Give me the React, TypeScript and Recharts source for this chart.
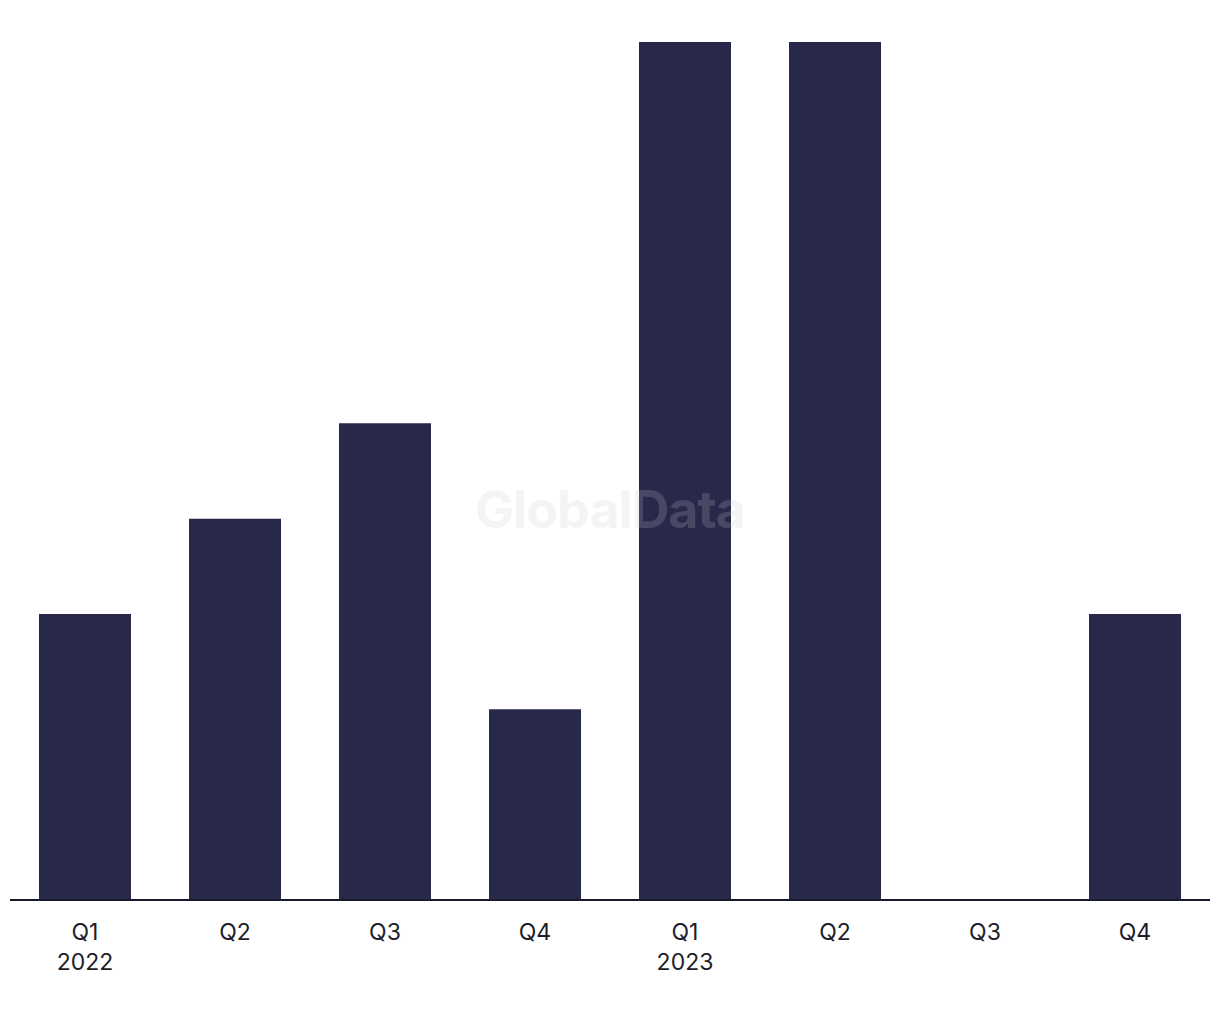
import React from 'react';
import { BarChart, Bar, XAxis, YAxis } from 'recharts';

const quarters = ['Q1', 'Q2', 'Q3', 'Q4', 'Q1', 'Q2', 'Q3', 'Q4'];
const years = ['2022', '', '', '', '2023', '', '', ''];
const deals = [3, 4, 5, 2, 9, 9, 0, 3];

const data = quarters.map((q, i) => ({ key: `${q}-${i}`, quarter: q, year: years[i], deals: deals[i] }));

const QuarterTick = (props: any) => {
  const { x, y, payload } = props;
  const row = data[payload.index];
  return (
    <g transform={`translate(${x},${y})`}>
      <text x={0} y={0} dy={32} textAnchor="middle" fill="#1d1d2b" fontSize={23} fontFamily="Inter, 'Liberation Sans', sans-serif">
        {row.quarter}
      </text>
      {row.year && (
        <text x={0} y={0} dy={62} textAnchor="middle" fill="#1d1d2b" fontSize={23} fontFamily="Inter, 'Liberation Sans', sans-serif">
          {row.year}
        </text>
      )}
    </g>
  );
};

export default function App() {
  return (
    <div style={{ position: 'absolute', left: 0, top: 0, width: 1220, height: 1020, background: '#fff' }}>
      <BarChart width={1220} height={1020} data={data} margin={{ top: 42, right: 10, left: 10, bottom: 60 }} barCategoryGap={29}>
        <XAxis
          dataKey="key"
          tick={<QuarterTick />}
          tickLine={false}
          axisLine={{ stroke: '#1a1a2e', strokeWidth: 2 }}
          height={60}
          interval={0}
        />
        <YAxis hide domain={[0, 9]} />
        <Bar dataKey="deals" fill="#28284a" isAnimationActive={false} />
      </BarChart>
      <div
        style={{
          position: 'absolute',
          left: 0,
          top: 478,
          width: 1220,
          textAlign: 'center',
          fontFamily: 'Inter, "Liberation Sans", sans-serif',
          fontWeight: 700,
          fontSize: 52,
          letterSpacing: -1,
          color: 'rgba(200,200,212,0.2)',
          pointerEvents: 'none',
        }}
      >
        GlobalData
      </div>
    </div>
  );
}
